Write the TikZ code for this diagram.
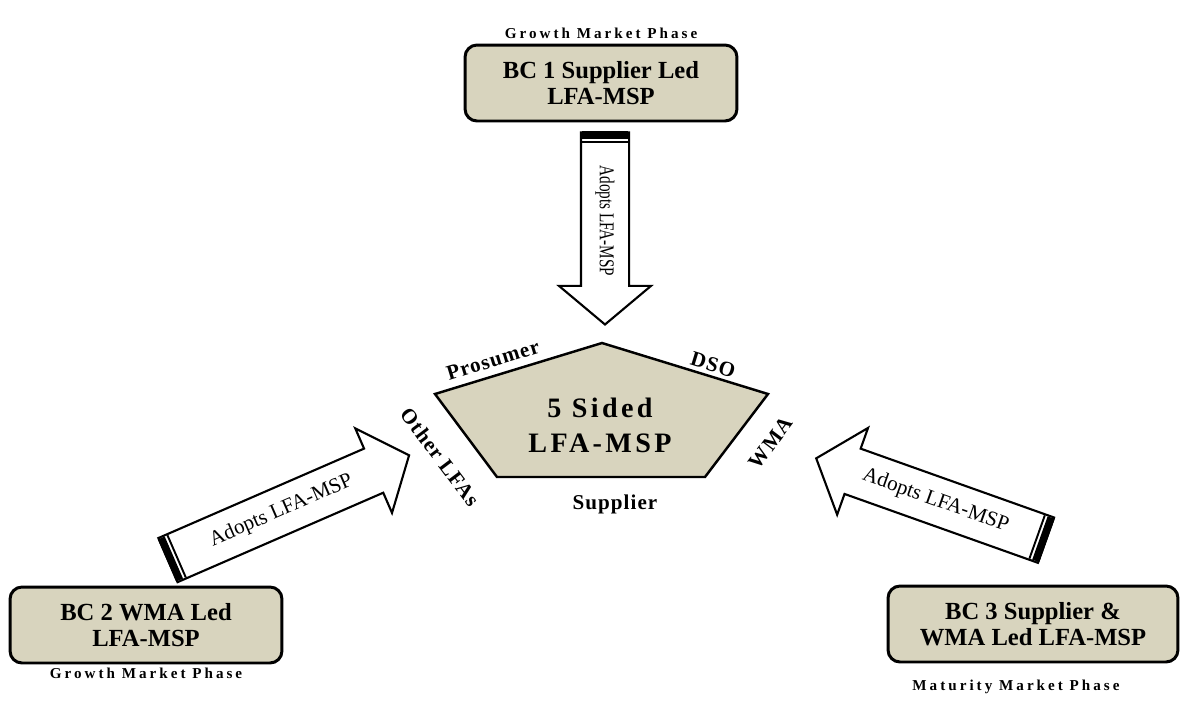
\documentclass[tikz,border=0pt]{standalone}
\usepackage{fontspec}
\setmainfont{Liberation Serif}
\newfontfamily\phasefont[LetterSpace=20]{Liberation Serif}
\newfontfamily\sidefont[LetterSpace=5]{Liberation Serif}
\newfontfamily\centrefont[LetterSpace=12]{Liberation Serif}
\usetikzlibrary{shapes.arrows,calc,positioning}
\definecolor{boxfill}{RGB}{216,212,190}

\begin{document}
\begin{tikzpicture}[x=0.02cm, y=-0.02cm,
    bcbox/.style={draw, line width=1.7pt, rounded corners=0.24cm, fill=boxfill,
      minimum width=5.44cm, minimum height=1.52cm, align=center,
      font=\fontsize{14}{14.5}\selectfont\bfseries},
    phase/.style={inner sep=1pt, font=\phasefont\fontsize{8.6}{10}\selectfont\bfseries},
    side/.style={inner sep=1pt, font=\sidefont\fontsize{12}{14}\selectfont\bfseries},
    blockarrow/.style={single arrow, draw, line width=1.2pt, fill=white,
      inner xsep=0pt, inner ysep=0.46cm, single arrow head extend=0.44cm,
      single arrow tip angle=100, anchor=tail},
    adopt/.style={inner sep=0pt, font=\fontsize{12}{14}\selectfont}]
  \useasboundingbox (0,0) rectangle (1181,704);

  % business cases and their market phase
  \node[bcbox] (bc1) at (601,83) {BC 1 Supplier Led\\LFA-MSP};
  \node[bcbox] (bc2) at (146,625) {BC 2 WMA Led\\LFA-MSP};
  \node[bcbox, minimum width=5.8cm] (bc3) at (1033,624) {BC 3 Supplier \&\\WMA Led LFA-MSP};
  \node[phase, above=0.05cm of bc1] (ph1) {Growth Market Phase};
  \node[phase, below=1pt of bc2] (ph2) {Growth Market Phase};
  \node[phase, below=0.28cm of bc3, xshift=-0.34cm] (ph3) {Maturity Market Phase};

  % the five sided platform
  \coordinate (ptop) at (602,343);
  \coordinate (pright) at (768,394);
  \coordinate (pbr) at (705,477);
  \coordinate (pbl) at (497,477);
  \coordinate (pleft) at (435,394);
  \draw[fill=boxfill, line width=1.4pt, line join=miter]
    (ptop) -- (pright) -- (pbr) -- (pbl) -- (pleft) -- cycle;
  \node[align=center, font=\centrefont\fontsize{16}{20}\selectfont\bfseries] (msp) at (600,425) {5 Sided\\LFA-MSP};

  % the five sides
  \node[side, rotate=17] (prosumer) at (493,360) {Prosumer};
  \node[side, rotate=-17] (dso) at (713,365) {DSO};
  \node[side, rotate=53] (wma) at (771,443) {WMA};
  \node[side] (supplier) at (615,504) {Supplier};
  \node[side, rotate=-53] (otherlfa) at (440,457) {Other LFAs};

  % adoption arrows
  \node[blockarrow, minimum height=3.84cm, rotate=-90] (adoptA) at ($(bc1.south)+(4,9)$) {};
  \node[blockarrow, minimum height=5.26cm, rotate=23.5] (adoptB) at ($(bc2.north)+(21,-25)$) {};
  \node[blockarrow, minimum height=4.88cm, rotate=160.4] (adoptC) at ($(bc3.north)+(14,-44)$) {};
  \foreach \a in {adoptA,adoptB,adoptC} {
    \coordinate (\a-in) at ($(\a.tail)!0.15cm!(\a.tip)$);
    \coordinate (\a-ln) at ($(\a.tail)!0.21cm!(\a.tip)$);
    \fill ($(\a.tail)!0.46cm!90:(\a.tip)$) -- ($(\a.tail)!0.46cm!-90:(\a.tip)$)
      -- ($(\a-in)!0.46cm!-90:(\a.tip)$) -- ($(\a-in)!0.46cm!90:(\a.tip)$) -- cycle;
    \draw[line width=1.1pt] ($(\a-ln)!0.46cm!90:(\a.tip)$) -- ($(\a-ln)!0.46cm!-90:(\a.tip)$);
  }
  \node[adopt, rotate=-90, xscale=0.72] (lblA) at ($(adoptA.tail)!0.46!(adoptA.tip)$) {Adopts LFA-MSP};
  \node[adopt, rotate=23.5] (lblB) at ($(adoptB.tail)!0.47!(adoptB.tip)$) {Adopts LFA-MSP};
  \node[adopt, rotate=-19.6] (lblC) at ($(adoptC.tail)!0.48!(adoptC.tip)$) {Adopts LFA-MSP};
\end{tikzpicture}
\end{document}
